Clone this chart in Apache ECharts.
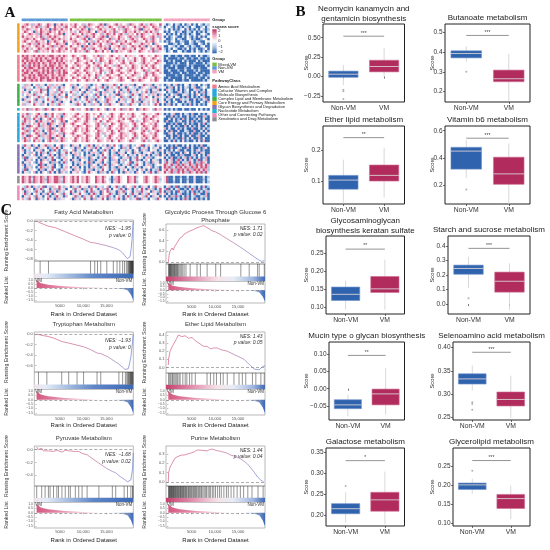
<!DOCTYPE html>
<html>
<head>
<meta charset="utf-8">
<script src="https://cdn.jsdelivr.net/npm/echarts@6/dist/echarts.min.js"></script>
<style>
  html, body { margin: 0; padding: 0; background: #fff; }
  #chart { width: 550px; height: 550px; }
</style>
</head>
<body>
<div id="chart"></div>
<script>
// ---------- A: ssGSEA heatmap ----------
const heatGroups = ['Non-VM', 'Mixed-VM', 'VM'];
const heatGroupCols = [20, 40, 20];
const pathwayClasses = ['Core Energy and Primary Metabolism', 'Amino Acid Metabolism', 'Complex Lipid and Membrane Metabolism',
  'Nucleotide Metabolism', 'Cofactor Vitamin and Complex Molecule Biosynthesis', 'Glycan Biosynthesis and Degradation',
  'Xenobiotics and Drug Metabolism', 'Other and Connecting Pathways'];
// B strong blue .. R strong pink, one char per sample, "/" splits Non-VM / Mixed-VM / VM
const scoreKey = { B: -1.9, b: -1.0, l: -0.45, '.': 0, p: 0.45, r: 0.95, R: 1.7 };
const heatBlocks = [
  [
    'prRpb rpRr. pRrpB rpRpr / rpRp. rbpRr p.pRr Brp.r Rpr.p bRrp. rRpbp Rrp.R / lBb.B lbB.B bpBlB .bBlb',
    'Rrp.r pRrbp rRp.R prlrR / prR.r pRbrp .rRpr lpRr. pbrRp r.pRl rpRrp .Rrpb / Bl.bB pBbBl bB.lB Bb.Bl',
    'rpRrl pr.Rp rpBrR rpRpr / R.prp RrpBr p.rRp rlprR .rpbR rp.rp RBrpr .pRrp / b.BlB bBl.B pBbBl B.bBb',
    'pRr.p BrpRr prRpr .Rprp / rpb.R rprRp .Brpr R.rpR bp.rR prpRl r.rRp Rprb. / BbB.l BbpBB lbB.B bBlBl',
    'r.pRr prbRp rRp.r pRrBp / pRrp. Rlrpr Rp.rb pRrpR .rRpb rpr.R pRrpl .rpRr / .BbBl B.BbB lBb.B Bl.bB',
    'Rprpr .rpRb prRpR rp.rp / r.pRr pbRrp R.prR rBprp .Rrp. rRprb pRr.p rRpbr / BlBb. bBBlB .bBlB pBbB.',
    'prRrp Rp.rR brpRr pRprl / Rpr.p rRpBr .prRr p.Rbr pRpr. lrRpr .pRrp bRp.r / lBBb. BlbBB .lBbB Bb.lB',
    'rRp.r pRrpr .BrpR rp.Rr / prRpl .rRpr bpR.r pRrp. RbrpR .prRr pl.Rp rRp.b / BbBl. BBlbB B.bBl bBB.l',
    'p.rRp rbRpr pRr.p RrprB / .rpRr pr.Bp RrpR. prbRr p.Rrp rR.pl pRrpr .Brp. / .lBBb lBb.B BlbBB .bBlB',
    'Rrpr. pRrpR .prRb rpRrp / Rp.rp BrRpr p.rRp rlR.p rRpbr .pRrp RprBp r.pRr / BB.lb BlBB. bBlbB Bl.BB',
    'rpRlr .pRrp rRprp .RrpR / prRp. rRpbr Rp.rp RrBpr .rpRr prlR. pRrp. bRprR / bBlB. lBBbB .BbBl BBb.B',
    'pRrp. rRbpr pr.Rp rRprp / r.Rpr pbRr. pRrpR .rpBr Rprp. rRpl. Rrp.r pRbrp / lBb.B B.lBb BBlB. bBlBb'
  ],
  [
    'RrRpr RpRrR prRRp rRpRr / pRr.p rRp.. rpRbr p.rRp .rp.R prpl. rRp.r p.Rrp / BBlBB bBBlB BbBB. BlBBb',
    'rRRpr pRrRp RrpRr RpRrp / .rpRp .Rrp. pr.Rr .prp. Rrpb. r.pRp .rRp. pRr.p / BlBBB BbBBl BBbBB lBBbB',
    'RpRrR rRpRr pRRrp RrRpr / rp.Rr p.rpR .bpRr p.Rrp .rpR. prlRp .rRp. rp.Rr / BBbBl BBBlB bBBBl BbBBB',
    'rRpRr RrRpR rpRrR pRrRp / p.Rrp .rRp. Rprb. rpRr. p.rRp .Rrp. lrRpr .pRrp / lBBBb BlBBB .BBbB BBlBb',
    'RrbRp RrRpr RpRRr pRrpR / .rpRr p.rR. prRp. Rr.pb rRp.r p.Rrp .rpR. rRp.l / BBBlB bBBBB lBbBB BBBlB',
    'pRrRR rpRrR pRrRp RrRpr / rRp.r .pRr. rpbRp .rRp. prRl. rpRrp .Rp.r pRr.p / BbBBB lBBBb BBlBB bBBBl',
    'RpRrp RRrpR rRpRb rRpRr / p.rRp .Rrp. rp.Rr lprR. rRp.p rRpr. .pRrb p.rRp / BBlBB BbBBl BBBbB lBBBB',
    'rRRpR prRrR pRrRp rRpRR / .rRpr p.Rrp .rpR. b.rRp .pRr. rp.Rr p.lRp rRp.r / BBBbB BBlBB bBBBl BBbBB',
    'RrpRr RpRRr RrpRr pRrRp / rp.Rr .rpRp .Rrb. pRr.p rRp.r .pRrp l.rRp .Rrp. / lBBBB bBBlB BBBbB BlBBb',
    'pRrRr RrpRR rRpRr RpRrp / .Rrp. rRpr. pRb.r p.Rrp .rRp. Rrp.l rpRr. p.Rrp / BBbBB BBBlB lBBBB bBBlB',
    'RRprR rRpRr pRRrp RrRpR / rp.Rr .pRrp r.Rp. rRpl. prRr. .pRrp Rrp.. rpRr. / BbBBl BBBbB BlBBB BBbBl'
  ],
  [
    'lbrpB .rbpl Bprbl rpbB. / rbpBl .prbB lr.pB brlpR b.Bpr lbrBp .lRbp rBlpb / BbpBl rBbB. lBpbB .BlbB',
    'brpl. Bprbl .Rbpr lBpr. / pBrl. bprBl .rpbR lBpr. bRlpB r.lbp Brp.l brBpl / lBbrB .BlBp bBlrB Bb.lB',
    'pBlrb .lpRb rBlp. bRpl. / lbrpB .pBrl bRp.l Brlpb .rBlp RblpB lp.rb BplrB / BrlbB lBpBb .BBlr bBlB.',
    'rlpB. brpRl .Bplr blRpb / Rplb. rBlpb .lrBp rbplB .Rpbl rBplr .bpRl Brbpl / .BlbB BrlBb lB.Bp BbrBl',
    'b.rpl Rbpl. rBprb lRp.B / .rblp Bprl. bRpBl r.bpl RBrp. lbRpl Brp.b lrpBr / BlB.b rBBlp bBlBr .BbBl',
    'plBr. lpRbr .blpB rlbpR / bplrB .rBpl bpRl. Bprlb .pRbl rBlp. brpRl .Bprl / bBrlB .lBbB rBlBb BlrBB',
    'Brlp. rBplb .Rlpb Brp.l / rpBlb .lRpb rBpl. bRrpl .Bprb lpRl. Brbpl .rpBl / BlbB. BBrlb lBBpB bBlrB',
    'lpbR. brlpB .plRb lrBp. / Bplr. blpRb .rBlp bRpl. Brplb .lRpb rBplr .bpRl / rBlBb .BBlB pbBlB B.bBr',
    'rbpl. Rplbr .Bprl bRpl. / plbRr .Bplb rlpB. rbRpl .pBrl bRpl. Bprlb .lRpB / BbrBl B.lBb BrBlB lBbB.'
  ],
  [
    'rpRbr pRrpb RrpBr pRrp. / rRpbr .pRrB rpRp. rBrpR .pRbr pRr.B rpRrp .bRpr / BbBlB bBBlB BbBB. BlBbB'
  ],
  [
    'rpRbp .rRpl BrpR. prbRp / p.rRp .pRr. rp.Rp l.rRp .pRr. rpRp. .rRpl p.rRp / BbBlr BBpBl bBrBB lBbBp',
    'Rpbr. pRlrp RbpR. rpBrp / .rRp. rpRr. p.Rrb .rpRp .rR.p lpRr. p.rRp .Rrp. / lBBrB bBlBB pBbBl BBrbB',
    'pRrbl RprBp .rRpb prRp. / rp.Rr .pRr. bRp.r p.Rrp .rpR. rRp.l .pRrp Rr.p. / BBlBp BbBrB lBBbB pBlBB',
    'bRpr. pBrRp lrpRb .pRrB / .pRrp .rRp. pr.Rl .Rrp. pRrp. .rRpb p.Rrp .rpR. / BrBBl BbpBB lBrBb BBlpB',
    'Rrpb. rpRlr pBRrp .rbRp / rRp.. pRrp. .rRpb rp.Rr .pRrp l.rRp .Rr.p rpRl. / lBBbB rBBlB pBbBB lBrBb',
    'rpBRr .pRbr prRpl BrpR. / .rpRr p.Rrp .rRp. bpRr. .rRpr p.lRr .pRrp .rRp. / BBpBl BbBBr BlBbB pBBlB',
    'Rbpr. rRplb prRBr .pRrp / p.Rr. rpRp. .Rrpl .rRp. rpRr. p.Rrb .rpRp .Rrp. / rBlBB pBbBl BBrBB lBpBb',
    'prRbl RprpB .rRpr bpRr. / .rRp. rpRr. p.Rrp .rpRl .Rrp. pRrp. .rRpb p.rRp / BlBrB BpBBl bBBrB BlBpB',
    'Rrpb. pRrlr BpRrp .rbRp / rRp.. pRrp. .rRpb r.pRr .pRrp l.rRp .Rr.p rpRl. / BBrlB pBBbB lBrBB bBlBp',
    'rpBRr .pRbr prRpl RrpB. / .rpRr p.Rrp .rRp. bpRr. .rRpr p.lRr .pRrp .rRp. / lBBpB BrBlB BpBBb rBBlB',
    'bRpr. rRplb prRBr .pRrp / p.Rr. rpRp. .Rrpl .rRp. rpRr. p.Rrb .rpRp .Rrp. / BpBlB bBBrB lBpBB rBlBB',
    'pRrb. RprpB .rRpr bpRrl / .rRp. rpRr. p.Rrp .rpRl .Rrp. pRrp. .rRpb p.rRp / BBlBr BlBpB bBBlB pBrBB'
  ],
  [
    'bRlpB r.Blp RbrlB .pBrl / BrlpB .lbRp Blr.b pBrlR .bBpl rBlb. pRBlr .lBpb / BlBbB rBBlB .BlBb BrBBl',
    'Blpr. bBrlp .Bbrl RpBl. / lpBrb .Blpr bRlB. lrbBp .lBrb pBl.r BlrpB .bplB / lBBrB BlbBB rBlBB bBrlB',
    'rBlb. BplrB .lBbR pBlrb / .rBlp BblrB .pBlb RlBpr .Blpb rlBp. BrlbB .plBr / BbBlB .rBBl BBlBr lBbBB',
    'lBpbr .BlRb pBrl. bBlpR / Bprlb .BlBp rlbBr .pBlb BrlpB .lBrp bBlp. rBlbB / BlrBb BBlBr .BlBb BrlBB',
    'Bplb. rBlBp .bRlB pBrlb / lBrpb .Blrb BpblR .lBpr bBlr. BpblB .rlBp BlbrB / rBlBB lBrbB BBlrB .BlBr',
    'bRBlp .lBrb BplR. bBlrp / .BlBr pblBr .lBpb RlBrp .bBlp rBlbR .lBpr bBl.p / BlBrB BbBlr BrBlB lBbrB',
    'lBrpb .BlBr pblRB .lBpr / BrlbB .plBr bBlpR .lBbr pBlrb .BlpR bBlr. BplbB / rBlrB bRrBl BrlBb RBlrB',
    'Bplr. bBlRp .lBrb pBlRb / lBpbr .BlRb BplrB .bBlp rBlb. pRBlr .lBpb BrlpB / bRlrB RrBlb rRlBr bRrlB',
    'rBlbp .lBRb BplrB .bBlp / .BlBr pblBr .lBpb RlBrp .bBlp rBlbR .lBpr bBl.p / RrlRb rRbRr lRrbR rRlRr',
    'lBrpb .BlRr pblRB .lBpr / BprlB .BlBp rlbBr .pBlb BrlpB .lBrp bBlp. rBlbB / RrRbl RrRlR rbRrR lRrRb',
    'bRBlp .lBrb BplR. bBlrp / lBrpb .Blrb BpblR .lBpr bBlr. BpblB .rlBp BlbrB / rRlRr bRrRl RrbRr RlRrb',
    'Bplb. rBlBp .bRlB pBrlb / Bplr. bBlRp .lBrb pBlRb .BlBr pblBr .lBpb RlBrp / RlrRb rRlRr bRrlR rRbRl'
  ],
  [
    'RrpRb RrpRr lRrpR RrbRp / rRpR. rpRr. .RrpR r.lBp rRp.. RrpRb ..rRp .pRrl / lRBBl BBbBB lBBpB BBlBb',
    'RrpRl RrpRr bRrpR RrlRp / rRpR. rpRr. .RrpR p.bBr rRp.. RrpRl ..rRp .pRrb / pRBBl BBlBB bBBlB BBbBl',
    'RrpRb RrpRr lRrpR RrbRp / rRpR. rpRr. .RrpR r.lBp rRp.. RrpRb ..rRp .pRrl / lRBBb BBlBB lBBpB BBlBb'
  ],
  [
    'lbRpB rlbpR Blbrp .Rlbp / BrlbR .lpBr bRplb .rBlp RblBr .pbRl BrlpB .bRpl / BlrBb RBlbB rBlbB lBrBb',
    'Rblp. BrlRb .pBlr bRlpB / .bRlp BrblR .lBpr bRlB. pbRlB rlBpb .RlBr pbBlR / bRBlB lrBBb BlRbB rBlbB',
    'pBrl. bRplB .lRbp Brlb. / RlBpb .rBlR bplBr .Rbpl BrlRb .pBlr bRlp. BrlbR / BbrBl BRlbB lBrBb BlBrb',
    'lRbpB .rlBp bRlBr .pbRl / BrlpR .lbBp RblBr .pRbl BrlpB .bRlp BrlbR .lpBr / rBlBb BlrBB bBlRb lBBrB',
    'Bplr. bRlpB .rBlb RplBr / .lRbp BrlpR .bBlr pRblB .rlBp RblBr .pbRl BrlpB / BlBrb RbBlB rBlbB BlbrB',
    'rlbR. pBrlb .RlpB rbpl. / pBrlb .RlpB rbplR .Brlb pRlBr .blpR BrlpB .lbRp / lBrBb BlBbR bBlBr BbBlB'
  ]
];
const scoreTicks = ['2', '1', '0', '\u22121', '\u22122'];
const groupLegend = ['Mixed-VM', 'Non-VM', 'VM'];
const pathwayLegend = ['Amino Acid Metabolism', 'Cofactor Vitamin and Complex', 'Molecule Biosynthesis',
  'Complex Lipid and Membrane Metabolism', 'Core Energy and Primary Metabolism', 'Glycan Biosynthesis and Degradation',
  'Nucleotide Metabolism', 'Other and Connecting Pathways', 'Xenobiotics and Drug Metabolism'];

// ---------- B: boxplots (min, Q1, median, Q3, max) ----------
const boxTitles = ['Neomycin kanamycin and\ngentamicin biosynthesis', 'Butanoate metabolism', 'Ether lipid metabolism',
  'Vitamin b6 metabolism', 'Glycosaminoglycan\nbiosynthesis keratan sulfate', 'Starch and sucrose metabolism',
  'Mucin type o glycan biosynthesis', 'Selenoamino acid metabolism', 'Galactose metabolism', 'Glycerolipid metabolism'];
const boxCats = ['Non-VM', 'VM'];
const boxNonVM = [
  [-0.11, -0.01, 0.03, 0.07, 0.15], [0.35, 0.371, 0.393, 0.407, 0.43], [0.03, 0.076, 0.105, 0.12, 0.17],
  [0.25, 0.317, 0.45, 0.478, 0.53], [0.094, 0.119, 0.136, 0.156, 0.174], [0.11, 0.205, 0.245, 0.268, 0.325],
  [-0.08, -0.058, -0.047, -0.032, -0.017], [0.308, 0.322, 0.333, 0.344, 0.362], [0.184, 0.204, 0.216, 0.228, 0.255],
  [0.177, 0.188, 0.2, 0.205, 0.216]
];
const boxVM = [
  [0.0, 0.06, 0.13, 0.21, 0.37], [0.153, 0.25, 0.265, 0.309, 0.39], [0.05, 0.102, 0.12, 0.153, 0.208],
  [0.06, 0.205, 0.282, 0.405, 0.506], [0.094, 0.141, 0.151, 0.185, 0.231], [-0.04, 0.082, 0.157, 0.22, 0.28],
  [-0.075, -0.047, -0.015, -0.001, 0.06], [0.25, 0.275, 0.289, 0.305, 0.34], [0.18, 0.21, 0.237, 0.255, 0.304],
  [0.11, 0.138, 0.164, 0.175, 0.198]
];
const boxOutNonVM = [[-0.17, -0.19, -0.29], [0.30], [], [0.166], [], [0.04], [], [0.283, 0.279, 0.267], [0.27], [0.237]];
const boxSig = [0.52, 0.485, 0.24, 0.545, 0.26, 0.383, 0.097, 0.39, 0.33, 0.264];
const boxStars = ['***', '***', '**', '***', '**', '***', '**', '***', '*', '***'];
const boxYMin = [-0.328, 0.147, 0.029, 0.06, 0.082, -0.068, -0.091, 0.245, 0.175, 0.092];
const boxYMax = [0.677, 0.543, 0.277, 0.635, 0.296, 0.468, 0.136, 0.412, 0.36, 0.297];
const boxTicks = [[-0.25, 0, 0.25, 0.5], [0.2, 0.3, 0.4, 0.5], [0.1, 0.2], [0.2, 0.4, 0.6], [0.1, 0.15, 0.2, 0.25],
  [0, 0.1, 0.2, 0.3, 0.4], [-0.05, 0, 0.05, 0.1], [0.25, 0.3, 0.35, 0.4], [0.2, 0.25, 0.3, 0.35], [0.1, 0.15, 0.2, 0.25]];
const boxDecimals = [2, 1, 1, 1, 2, 1, 2, 2, 2, 2];

// ---------- C: GSEA ----------
const gseaTitles = ['Fatty Acid Metabolism', 'Glycolytic Process Through Glucose 6\nPhosphate', 'Tryptophan Metabolism',
  'Ether Lipid Metabolism', 'Pyruvate Metabolism', 'Purine Metabolism'];
const gseaNES = ['\u22121.95', '1.71', '\u22121.93', '1.43', '\u22121.68', '1.44'];
const gseaP = ['0', '0.02', '0', '0.05', '0.02', '0.04'];
const esFatty = [[0, 0], [700, -0.04], [750, -0.02], [1500, -0.07], [2500, -0.11], [2550, -0.09], [4000, -0.14],
  [6000, -0.22], [8000, -0.3], [10000, -0.38], [11600, -0.45], [11650, -0.43], [12500, -0.46], [12550, -0.44],
  [13800, -0.49], [13850, -0.47], [15100, -0.52], [15150, -0.5], [16500, -0.56], [17300, -0.59], [17900, -0.62],
  [18500, -0.67], [19000, -0.73], [19500, -0.79], [19850, -0.83], [20100, -0.75], [20350, -0.58], [20550, -0.36],
  [20700, -0.13], [20800, 0]];
const esGlycolytic = [[0, 0], [100, 0.06], [150, 0.12], [250, 0.1], [370, 0.2], [600, 0.19], [800, 0.26], [1090, 0.22],
  [1300, 0.28], [1600, 0.27], [1900, 0.36], [2200, 0.35], [2540, 0.45], [3000, 0.47], [3400, 0.52], [4000, 0.55],
  [4700, 0.58], [5300, 0.6], [6170, 0.64], [6900, 0.66], [7600, 0.68], [8350, 0.64], [9500, 0.58], [10200, 0.56],
  [11250, 0.51], [12500, 0.44], [14000, 0.36], [15600, 0.27], [17400, 0.16], [19200, 0.05], [19550, 0.04],
  [20000, 0.01], [20650, 0.02], [20800, 0]];
const esTryptophan = [[0, 0], [400, 0.01], [1500, -0.03], [2200, -0.04], [2250, -0.02], [3500, -0.07], [5400, -0.14],
  [5450, -0.12], [6900, -0.17], [6950, -0.15], [8700, -0.21], [8750, -0.19], [10100, -0.24], [10150, -0.22],
  [11500, -0.29], [13000, -0.36], [13050, -0.34], [13800, -0.37], [13850, -0.35], [15500, -0.44], [17000, -0.53],
  [17700, -0.57], [18500, -0.63], [19000, -0.67], [19400, -0.69], [19700, -0.66], [20000, -0.56], [20300, -0.42],
  [20550, -0.22], [20800, 0]];
const esEther = [[0, 0.03], [50, 0.1], [370, 0.2], [513, 0.19], [948, 0.27], [1090, 0.27], [1455, 0.32], [1820, 0.36],
  [2180, 0.4], [2540, 0.38], [2900, 0.38], [3120, 0.4], [3630, 0.39], [3990, 0.38], [4350, 0.36], [4570, 0.38],
  [5080, 0.37], [5800, 0.33], [6170, 0.32], [7600, 0.26], [8330, 0.26], [9060, 0.23], [9780, 0.24], [10500, 0.24],
  [11230, 0.22], [11950, 0.21], [12680, 0.2], [14120, 0.16], [15210, 0.13], [16290, 0.1], [17740, 0.02],
  [18460, -0.02], [19550, -0.03], [20280, 0.01], [20800, 0.02]];
const esPyruvate = [[0, 0.04], [370, 0.0], [1090, 0.02], [1450, -0.02], [1820, 0.0], [2540, -0.02], [2900, -0.01],
  [3630, -0.03], [4350, -0.01], [4710, -0.02], [5440, -0.04], [6160, -0.01], [6880, -0.02], [7250, 0.01],
  [8330, -0.03], [9060, -0.03], [9780, -0.06], [10860, -0.08], [11600, -0.12], [13400, -0.21], [15000, -0.29],
  [16290, -0.34], [17020, -0.36], [18000, -0.42], [18830, -0.46], [19550, -0.5], [19900, -0.52], [20280, -0.47],
  [20640, -0.3], [20800, -0.05]];
const esPurine = [[0, 0], [60, 0.1], [370, 0.16], [700, 0.19], [1090, 0.21], [1500, 0.26], [1820, 0.28], [2300, 0.28],
  [2900, 0.29], [3400, 0.29], [3990, 0.3], [4700, 0.31], [5440, 0.32], [6000, 0.34], [6520, 0.345], [7400, 0.34],
  [8330, 0.335], [8900, 0.35], [9420, 0.355], [10300, 0.34], [11230, 0.33], [12000, 0.32], [12680, 0.31],
  [13400, 0.29], [14120, 0.28], [15570, 0.25], [17020, 0.195], [18470, 0.105], [19190, 0.053], [19910, 0.018],
  [20490, 0.0], [20700, -0.018], [20800, 0.01]];
const hitsFatty = [750, 2550, 11600, 12500, 13100, 13800, 15100, 16500, 17300, 17900, 18500, 18900, 19300, 19600,
  19750, 19900, 20000, 20100, 20180, 20260, 20340, 20420, 20500, 20570, 20640, 20700, 20760];
const hitsGlycolytic = [60, 150, 260, 380, 450, 560, 700, 820, 950, 1100, 1250, 1350, 1500, 1650, 1800, 1950, 2100,
  2300, 2550, 2800, 3100, 3400, 3800, 4700, 6170, 6900, 8350, 10200, 11250, 15600, 17400, 19200, 19550, 20650];
const hitsTryptophan = [400, 2200, 5400, 6900, 8700, 10100, 13000, 13800, 17700, 18500, 19100, 19400, 19600, 19750,
  19900, 20050, 20150, 20250, 20350, 20450, 20550, 20650, 20750];
const hitsEther = [50, 300, 513, 800, 948, 1200, 1455, 1700, 1960, 2300, 2540, 3120, 3630, 3990, 4570, 5070, 5800,
  8330, 9060, 9780, 10360, 11230, 11810, 12680, 14120, 15210, 15930, 16660, 18100, 18830, 19910, 20640];
const hitsPyruvate = [20, 1090, 1820, 2540, 2900, 3630, 4350, 4710, 5440, 6160, 6880, 7250, 8330, 9060, 9780, 10860,
  13400, 16290, 17020, 18830, 19550, 20280, 20640, 20760];
const hitsPurine = [40, 150, 260, 330, 470, 560, 690, 780, 860, 990, 1100, 1180, 1320, 1460, 1530, 1690, 1800, 1950,
  2080, 2160, 2330, 2470, 2600, 2690, 2850, 3010, 3120, 3290, 3380, 3560, 3700, 3890, 4020, 4240, 4390, 4510, 4730,
  4900, 5060, 5280, 5470, 5600, 5850, 6040, 6230, 6500, 6720, 6980, 7150, 7430, 7700, 7960, 8210, 8550, 8820, 9100,
  9480, 9790, 10150, 10600, 11020, 11400, 11950, 12500, 12900, 13500, 14100, 14800, 15500, 16200, 17100, 18000,
  19300, 20400];
const rankedList = [[0, 1.0], [300, 0.8], [800, 0.63], [1500, 0.52], [2500, 0.42], [4000, 0.32], [6000, 0.22],
  [8000, 0.15], [10000, 0.09], [12000, 0.05], [14000, 0.02], [16000, 0.0], [17000, -0.03], [18000, -0.08],
  [19000, -0.18], [19600, -0.32], [20000, -0.55], [20300, -0.85], [20550, -1.2], [20800, -1.55]];
const gseaES = [esFatty, esGlycolytic, esTryptophan, esEther, esPyruvate, esPurine];
const gseaHits = [hitsFatty, hitsGlycolytic, hitsTryptophan, hitsEther, hitsPyruvate, hitsPurine];
const gseaYMin = [-0.84, -0.04, -0.72, -0.069, -0.565, -0.045];
const gseaYMax = [0.02, 0.71, 0.04, 0.437, 0.055, 0.388];
const gseaTicks = [[-0.8, -0.6, -0.4, -0.2, 0], [0, 0.2, 0.4, 0.6], [-0.6, -0.4, -0.2, 0], [0, 0.1, 0.2, 0.3, 0.4],
  [-0.4, -0.2, 0], [0, 0.1, 0.2, 0.3]];
const rankTicks = [5000, 10000, 15000];
const rankedTicks = [-1.5, -1, -0.5, 0, 0.5, 1];
const rankMin = -500, rankMax = 20800;

// ---------- styles ----------
const FONT = '"Liberation Sans", Arial, sans-serif';
const SERIF = '"Liberation Serif", "Times New Roman", serif';
const groupColors = ['#5b9bd5', '#7ac143', '#f4a3bf'];
const blockColors = ['#f5a21b', '#f07d8c', '#3cb04a', '#1db6cf', '#2aa6df', '#8b72b6', '#8e8e8e', '#f08ab9'];
const annColors = groupColors.concat(blockColors);
const legendClassColors = ['#f07d8c', '#2aa6df', null, '#3cb04a', '#f5a21b', '#8b72b6', '#1db6cf', '#f08ab9', '#8e8e8e'];
const boxFill = ['#2f63ad', '#b12c5d'];
const boxEdge = ['#7294cc', '#cf7196'];
const fmtMinus = s => s.replace('-', '\u2212');
const LG = (x2, y2, stops) => new echarts.graphic.LinearGradient(0, 0, x2, y2,
  stops.map(s => ({ offset: s[0], color: s[1] })));

const grid = [], xAxis = [], yAxis = [], series = [], graphic = [];

function txt(text, x, y, o = {}) {
  graphic.push({
    type: 'text', x, y, rotation: o.rot || 0, silent: true,
    style: {
      text, fontSize: o.size || 6, fontFamily: o.family || FONT, fontWeight: o.weight || 'normal',
      fontStyle: o.italic ? 'italic' : 'normal', fill: o.color || '#222', align: o.align || 'left',
      verticalAlign: 'middle', lineHeight: o.lh || undefined
    }
  });
}
function box(x, y, w, h, fill) {
  graphic.push({ type: 'rect', silent: true, shape: { x, y, width: w, height: h }, style: { fill } });
}
function addGrid(g) { grid.push(g); return grid.length - 1; }
function cellRect(api, fill) {
  const p = api.coord([api.value(0), api.value(1)]);
  const s = api.size([1, 1]);
  return { type: 'rect', shape: { x: p[0] - s[0] / 2, y: p[1] - s[1] / 2, width: s[0] + 0.25, height: s[1] + 0.25 },
    style: { fill } };
}

// ---------- A ----------
(function buildHeatmap() {
  const heatData = [], annData = [], colStart = [];
  let c = 2;
  heatGroupCols.forEach((n, g) => {
    colStart.push(c);
    for (let j = 0; j < n; j++) annData.push([c + j, 0, g]);
    c += n + 1;
  });
  const nCols = c - 1;
  let r = 2;
  heatBlocks.forEach((rows, b) => {
    rows.forEach(str => {
      const segs = str.split('/').map(s => s.replace(/\s/g, ''));
      segs.forEach((s, g) => {
        for (let j = 0; j < heatGroupCols[g]; j++) {
          const v = scoreKey[s[j]];
          heatData.push([colStart[g] + j, r, v === undefined ? 0 : v]);
        }
      });
      annData.push([0, r, 3 + b]);
      r++;
    });
    r++;
  });
  const nRows = r - 1;
  const gi = addGrid({ left: 17.1, top: 18.5, width: 192.4, height: 181.5 });
  xAxis.push({ gridIndex: gi, type: 'category', show: false, data: Array.from({ length: nCols }, (_, i) => i) });
  yAxis.push({ gridIndex: gi, type: 'category', show: false, inverse: true, data: Array.from({ length: nRows }, (_, i) => i) });
  series.push({
    type: 'custom', xAxisIndex: gi, yAxisIndex: gi, data: heatData, silent: true,
    renderItem: (params, api) => cellRect(api, api.visual('color'))
  });
  series.push({
    type: 'custom', xAxisIndex: gi, yAxisIndex: gi, data: annData, silent: true,
    renderItem: (params, api) => cellRect(api, annColors[api.value(2)])
  });

  // legends
  const lx = 212.3, tx = 218.2;
  txt('Group', lx, 20, { size: 4.2, weight: 'bold' });
  txt('ssgsea score', lx, 26.8, { size: 4.2, weight: 'bold' });
  box(lx, 29.3, 4.4, 24, LG(0, 1, [[0, '#bf2d60'], [0.25, '#eba5bd'], [0.5, '#ffffff'], [0.75, '#a9c1e3'], [1, '#2b61ab']]));
  scoreTicks.forEach((t, i) => txt(t, tx, 31 + i * 5.15, { size: 4 }));
  txt('Group', lx, 59.3, { size: 4.2, weight: 'bold' });
  const gCol = { 'Mixed-VM': groupColors[1], 'Non-VM': groupColors[0], 'VM': groupColors[2] };
  groupLegend.forEach((g, i) => {
    box(lx, 62.6 + i * 3.6, 4.4, 3.6, gCol[g]);
    txt(g, tx, 64.4 + i * 3.6, { size: 4 });
  });
  txt('PathwayClass', lx, 81, { size: 4.2, weight: 'bold' });
  pathwayLegend.forEach((t, i) => {
    const y = 86.7 + i * 4.08;
    if (legendClassColors[i]) box(lx, y - 2.1, 4.4, legendClassColors[i + 1] === null ? 8.2 : 4.1, legendClassColors[i]);
    txt(t, tx, y, { size: 4 });
  });
})();

// ---------- B ----------
const boxLeft = [323, 445, 323, 445, 326, 448, 329, 453, 326, 453];
const boxRight = [404.5, 530];
const boxTop = [24, 126, 236, 342, 448];
boxTitles.forEach((title, i) => {
  const row = Math.floor(i / 2), col = i % 2;
  const left = boxLeft[i], top = boxTop[row], width = boxRight[col] - left, height = 78;
  const gi = addGrid({ left, top, width, height, show: true, borderColor: '#222', borderWidth: 1 });
  xAxis.push({
    gridIndex: gi, type: 'category', data: boxCats, axisLine: { show: false },
    axisTick: { show: true, alignWithLabel: true, length: 2, lineStyle: { color: '#333', width: 0.7 } },
    axisLabel: { fontSize: 6.8, color: '#333', margin: 3, fontFamily: FONT }, splitLine: { show: false }
  });
  const dec = boxDecimals[i];
  yAxis.push({
    gridIndex: gi, type: 'value', min: boxYMin[i], max: boxYMax[i], axisLine: { show: false }, splitLine: { show: false },
    axisTick: { show: true, customValues: boxTicks[i], length: 2, lineStyle: { color: '#333', width: 0.7 } },
    axisLabel: { customValues: boxTicks[i], fontSize: 6.5, color: '#333', margin: 2.5, fontFamily: FONT,
      formatter: v => fmtMinus(v.toFixed(dec)) }
  });
  series.push({
    type: 'custom', xAxisIndex: gi, yAxisIndex: gi, data: [[0].concat(boxNonVM[i]), [1].concat(boxVM[i])],
    renderItem(params, api) {
      const x = api.value(0);
      const w = api.size([1, 0])[0] * 0.72;
      const lo = api.coord([x, api.value(1)]), q1 = api.coord([x, api.value(2)]), md = api.coord([x, api.value(3)]);
      const q3 = api.coord([x, api.value(4)]), hi = api.coord([x, api.value(5)]);
      return { type: 'group', children: [
        { type: 'line', shape: { x1: lo[0], y1: lo[1], x2: hi[0], y2: hi[1] }, style: { stroke: '#cfcfcf', lineWidth: 0.8 } },
        { type: 'rect', shape: { x: q3[0] - w / 2, y: q3[1], width: w, height: q1[1] - q3[1] },
          style: { fill: boxFill[x], stroke: boxEdge[x], lineWidth: 0.6 } },
        { type: 'line', shape: { x1: md[0] - w / 2, y1: md[1], x2: md[0] + w / 2, y2: md[1] },
          style: { stroke: '#d8d0d4', lineWidth: 0.9 } }
      ] };
    }
  });
  series.push({
    type: 'scatter', xAxisIndex: gi, yAxisIndex: gi, symbolSize: 2, itemStyle: { color: '#a0a0a0' },
    data: boxOutNonVM[i].map(v => [0, v])
  });
  const stars = boxStars[i];
  series.push({
    type: 'custom', xAxisIndex: gi, yAxisIndex: gi, data: [[boxSig[i]]],
    renderItem(params, api) {
      const a = api.coord([0, api.value(0)]), b = api.coord([1, api.value(0)]);
      return { type: 'group', children: [
        { type: 'line', shape: { x1: a[0], y1: a[1], x2: b[0], y2: b[1] }, style: { stroke: '#666', lineWidth: 0.7 } },
        { type: 'text', x: (a[0] + b[0]) / 2, y: a[1] - 0.5,
          style: { text: stars, fontSize: 5, fontFamily: FONT, fill: '#444', align: 'center', verticalAlign: 'bottom' } }
      ] };
    }
  });
  const lines = title.split('\n').length;
  txt(title, left + width / 2, top - (lines > 1 ? 10.2 : 6.7), { size: 8, align: 'center', lh: 10.2, color: '#222' });
  txt('Score', col ? 432 : 306.7, top + height / 2, { size: 5.8, rot: Math.PI / 2, align: 'center', color: '#333' });
});

// ---------- C ----------
const gseaLeft = [34.3, 166];
const gseaMainTop = [220, 224, 332, 332, 446, 446];
const gseaMainBottom = [261, 264, 372, 373, 486, 486];
const gseaRugBottom = [278, 281, 389, 389, 502, 502];
const gseaBottom = [302, 303, 415, 415, 528, 528];
const gseaXLabelY = [314, 314, 425, 425, 540, 540];
const negBar = [[0, '#f2e4ec'], [0.12, '#e3ebf7'], [0.35, '#a4bbe0'], [0.6, '#5f86c8'], [1, '#3c69b6']];
const posBar = [[0, '#c6406f'], [0.3, '#e49ab5'], [0.52, '#f6e3ea'], [0.68, '#e8edf6'], [0.88, '#9fb6df'], [1, '#3e6ab6']];
gseaTitles.forEach((title, i) => {
  const col = i % 2;
  const left = gseaLeft[col], width = 99;
  const mt = gseaMainTop[i], mb = gseaMainBottom[i], rb = gseaRugBottom[i], bb = gseaBottom[i];
  const neg = gseaNES[i].charAt(0) === '\u2212';
  const border = { show: true, borderColor: '#8c8c8c', borderWidth: 0.6 };

  // running enrichment score
  const g1 = addGrid(Object.assign({ left, top: mt, width, height: mb - mt }, border));
  xAxis.push({ gridIndex: g1, type: 'value', min: rankMin, max: rankMax, show: false });
  yAxis.push({
    gridIndex: g1, type: 'value', min: gseaYMin[i], max: gseaYMax[i], axisLine: { show: false }, splitLine: { show: false },
    axisTick: { show: true, customValues: gseaTicks[i], length: 1.5, lineStyle: { color: '#777', width: 0.5 } },
    axisLabel: { customValues: gseaTicks[i], fontSize: 4, color: '#555', margin: 1.5, fontFamily: FONT,
      formatter: v => fmtMinus(v.toFixed(1)) }
  });
  series.push({
    type: 'line', xAxisIndex: g1, yAxisIndex: g1, data: gseaES[i], symbol: 'none', silent: true,
    lineStyle: { width: 0.7, color: LG(1, 0, [[0, '#d65a7e'], [0.55, '#c76b95'], [0.82, '#8f7fc0'], [1, '#5a7fd0']]) },
    markLine: { silent: true, symbol: 'none', label: { show: false }, data: [{ yAxis: 0 }],
      lineStyle: { type: [3, 2], color: '#777', width: 0.6 } }
  });

  // hits + rank colour bar
  const g2 = addGrid(Object.assign({ left, top: mb, width, height: rb - mb }, border));
  xAxis.push({ gridIndex: g2, type: 'value', min: rankMin, max: rankMax, show: false });
  yAxis.push({ gridIndex: g2, type: 'value', min: 0, max: 1, show: false });
  const barStops = neg ? negBar : posBar;
  series.push({
    type: 'custom', xAxisIndex: g2, yAxisIndex: g2, data: [[rankMin, rankMax]], silent: true,
    renderItem(params, api) {
      const a = api.coord([api.value(0), 0.26]), b = api.coord([api.value(1), 0]);
      return { type: 'rect', shape: { x: a[0], y: a[1], width: b[0] - a[0], height: b[1] - a[1] },
        style: { fill: LG(1, 0, barStops) } };
    }
  });
  series.push({
    type: 'custom', xAxisIndex: g2, yAxisIndex: g2, data: gseaHits[i].map(h => [h, 0]), silent: true,
    renderItem(params, api) {
      const a = api.coord([api.value(0), 1]), b = api.coord([api.value(0), 0.26]);
      return { type: 'line', shape: { x1: a[0], y1: a[1], x2: b[0], y2: b[1] }, style: { stroke: '#111', lineWidth: 0.45 } };
    }
  });

  // ranked list metric
  const g3 = addGrid(Object.assign({ left, top: rb, width, height: bb - rb }, border));
  xAxis.push({
    gridIndex: g3, type: 'value', min: rankMin, max: rankMax, axisLine: { show: false }, splitLine: { show: false },
    axisTick: { show: true, customValues: rankTicks, length: 1.5, lineStyle: { color: '#777', width: 0.5 } },
    axisLabel: { customValues: rankTicks, fontSize: 4.2, color: '#555', margin: 2, fontFamily: FONT,
      formatter: v => v >= 10000 ? v.toLocaleString('en-US') : String(v) }
  });
  yAxis.push({
    gridIndex: g3, type: 'value', min: -1.75, max: 1.25, axisLine: { show: false }, splitLine: { show: false },
    axisTick: { show: true, customValues: rankedTicks, length: 1.2, lineStyle: { color: '#777', width: 0.5 } },
    axisLabel: { customValues: rankedTicks, fontSize: 3.4, color: '#555', margin: 1.3, fontFamily: FONT,
      formatter: v => fmtMinus(v.toFixed(1)) }
  });
  series.push({
    type: 'line', xAxisIndex: g3, yAxisIndex: g3, symbol: 'none', silent: true,
    data: rankedList.map(d => [d[0], Math.max(d[1], 0)]), lineStyle: { width: 0 },
    areaStyle: { opacity: 1, color: LG(1, 0, [[0, '#d3587f'], [0.4, '#eeb4c7'], [0.8, '#f8e4eb'], [1, '#fbeef2']]) },
    markLine: { silent: true, symbol: 'none', label: { show: false }, data: [{ yAxis: 0 }],
      lineStyle: { type: [3, 2], color: '#777', width: 0.6 } }
  });
  series.push({
    type: 'line', xAxisIndex: g3, yAxisIndex: g3, symbol: 'none', silent: true,
    data: rankedList.map(d => [d[0], Math.min(d[1], 0)]), lineStyle: { width: 0 },
    areaStyle: { opacity: 1, color: LG(1, 0, [[0, '#eef2fa'], [0.85, '#c3d2ec'], [1, '#3d68b5']]) }
  });

  // texts
  const cx = left + width / 2;
  txt(title, cx, mt - 7.5, { size: 6, align: 'center', lh: 7.8, color: '#333' });
  txt('NES: ' + gseaNES[i], left + width - 2.5, mt + (neg ? 8.5 : 4.2), { size: 5, align: 'right', italic: true, color: '#333' });
  txt('p value: ' + gseaP[i], left + width - 2.5, mt + (neg ? 15.5 : 11), { size: 5, align: 'right', italic: true, color: '#333' });
  txt('VM', left + 1, rb + 3.2, { size: 4.5, color: '#333' });
  txt('Non-VM', left + width - 1, rb + 3.2, { size: 4.5, align: 'right', color: '#333' });
  txt('Rank in Ordered Dataset', cx, gseaXLabelY[i], { size: 6, align: 'center', color: '#222' });
  const ax = col ? 145 : 6.5;
  txt('Running Enrichment Score', ax, (mt + mb) / 2, { size: 5.2, rot: Math.PI / 2, align: 'center', color: '#333' });
  txt('Ranked List', ax, (rb + bb) / 2, { size: 5.2, rot: Math.PI / 2, align: 'center', color: '#333' });
});

// panel letters
txt('A', 4.5, 13.5, { size: 15, weight: 'bold', family: SERIF, color: '#111' });
txt('B', 295.5, 12.5, { size: 15, weight: 'bold', family: SERIF, color: '#111' });
txt('C', 0.5, 211, { size: 16, weight: 'bold', family: SERIF, color: '#111' });

const chart = echarts.init(document.getElementById('chart'));
chart.setOption({
  backgroundColor: '#ffffff',
  animation: false,
  textStyle: { fontFamily: FONT },
  grid, xAxis, yAxis, series, graphic,
  visualMap: {
    type: 'continuous', show: false, min: -2, max: 2, seriesIndex: 0, dimension: 2,
    inRange: { color: ['#2b61ab', '#a9c1e3', '#ffffff', '#eba5bd', '#bf2d60'] }
  }
});
</script>
</body>
</html>
